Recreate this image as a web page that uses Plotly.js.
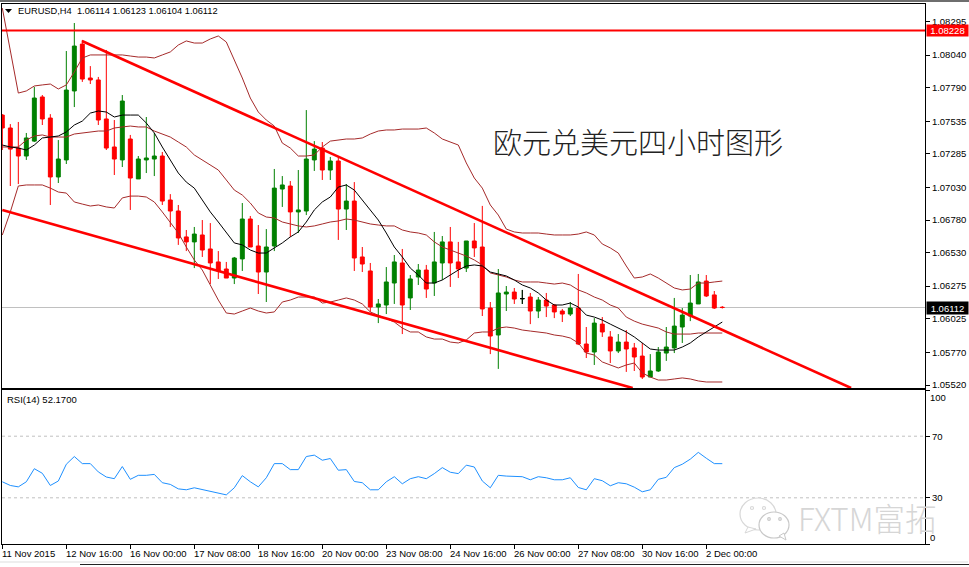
<!DOCTYPE html>
<html><head><meta charset="utf-8">
<script src="https://cdn.plot.ly/plotly-3.0.1.min.js"></script>
<style>html,body{margin:0;padding:0;background:#fff}</style>
</head><body><div id="chart" style="width:969px;height:567px"></div>
<script>
const opens=[1.07582,1.07483,1.07330,1.07269,1.07383,1.07720,1.07559,1.07109,1.07239,1.07766,
1.08124,1.07865,1.07850,1.07552,1.07338,1.07239,1.07399,1.07094,1.07239,1.07246,
1.07269,1.06933,1.06849,1.06651,1.06613,1.06666,1.06559,1.06460,1.06406,1.06337,
1.06483,1.06788,1.06582,1.06383,1.06582,1.07017,1.07040,1.06842,1.06849,1.07239,
1.07330,1.07162,1.07231,1.06864,1.06925,1.06498,1.06391,1.06116,1.06131,1.06299,
1.06452,1.06185,1.06345,1.06398,1.06299,1.06452,1.06613,1.06460,1.06413,1.06620,
1.06574,1.06108,1.05902,1.06215,1.06230,1.06180,1.06192,1.06085,1.06169,1.06131,
1.06085,1.06062,1.06108,1.05833,1.05772,1.05985,1.05887,1.05780,1.05848,1.05803,
1.05741,1.05581,1.05627,1.05764,1.05803,1.05963,1.06047,1.06139,1.06314,1.06208,1.06114];
const highs=[1.07589,1.07513,1.07529,1.07445,1.07797,1.07735,1.07589,1.07391,1.08071,1.08285,
1.08155,1.07956,1.07873,1.08079,1.07544,1.07735,1.07430,1.07269,1.07567,1.07445,
1.07300,1.06978,1.06895,1.06704,1.06727,1.06780,1.06757,1.06543,1.06460,1.06498,
1.06910,1.06811,1.06742,1.06711,1.07170,1.07116,1.07078,1.07162,1.07620,1.07383,
1.07376,1.07262,1.07262,1.07055,1.07070,1.06574,1.06452,1.06177,1.06421,1.06513,
1.06559,1.06360,1.06444,1.06437,1.06689,1.06658,1.06727,1.06613,1.06620,1.06757,
1.06888,1.06154,1.06406,1.06276,1.06261,1.06246,1.06223,1.06192,1.06223,1.06139,
1.06101,1.06154,1.06368,1.05963,1.06031,1.06039,1.05932,1.05909,1.05940,1.05841,
1.05841,1.05756,1.05810,1.05963,1.06185,1.06108,1.06360,1.06368,1.06360,1.06238,1.06123];
const lows=[1.07315,1.07040,1.07055,1.07239,1.07376,1.07506,1.06895,1.07063,1.07208,1.07643,
1.07835,1.07819,1.07506,1.07315,1.07124,1.07185,1.06857,1.07094,1.07139,1.07116,
1.06895,1.06727,1.06590,1.06543,1.06413,1.06498,1.06291,1.06330,1.06337,1.06291,
1.06391,1.06574,1.06215,1.06154,1.06543,1.06880,1.06651,1.06681,1.06818,1.07155,
1.07086,1.07086,1.06628,1.06704,1.06391,1.06383,1.06078,1.05993,1.06062,1.06139,
1.05909,1.06093,1.06284,1.06185,1.06200,1.06322,1.06269,1.06337,1.06383,1.06498,
1.06047,1.05756,1.05643,1.06085,1.06139,1.06139,1.05985,1.06031,1.06039,1.06031,
1.06001,1.06047,1.05825,1.05726,1.05673,1.05887,1.05688,1.05764,1.05620,1.05627,
1.05566,1.05581,1.05620,1.05704,1.05764,1.05841,1.06008,1.06139,1.06192,1.06101,1.06104];
const closes=[1.07483,1.07322,1.07269,1.07407,1.07712,1.07552,1.07109,1.07246,1.07773,1.08109,
1.07857,1.07850,1.07544,1.07330,1.07246,1.07689,1.07101,1.07246,1.07254,1.07269,
1.06925,1.06849,1.06643,1.06613,1.06673,1.06551,1.06452,1.06391,1.06337,1.06490,
1.06788,1.06574,1.06383,1.06574,1.07024,1.07048,1.06842,1.06857,1.07246,1.07322,
1.07162,1.07231,1.06864,1.06925,1.06490,1.06444,1.06116,1.06139,1.06307,1.06460,
1.06131,1.06330,1.06398,1.06253,1.06460,1.06613,1.06452,1.06406,1.06620,1.06567,
1.06101,1.05894,1.06223,1.06230,1.06177,1.06180,1.06085,1.06169,1.06123,1.06078,
1.06062,1.06108,1.05833,1.05772,1.05993,1.05925,1.05780,1.05848,1.05795,1.05734,
1.05581,1.05627,1.05772,1.05810,1.05970,1.06054,1.06146,1.06307,1.06200,1.06108,1.06112];
const upperBand=[1.08399,1.08079,1.07750,1.07766,1.07804,1.07812,1.07819,1.07781,1.07812,1.07911,
1.08018,1.08041,1.08041,1.08041,1.08041,1.08041,1.08033,1.08025,1.08025,1.08018,
1.08041,1.08064,1.08117,1.08148,1.08132,1.08132,1.08163,1.08186,1.08140,1.08002,
1.07865,1.07712,1.07605,1.07544,1.07498,1.07368,1.07330,1.07269,1.07269,1.07277,
1.07338,1.07383,1.07391,1.07399,1.07399,1.07407,1.07437,1.07460,1.07468,1.07468,
1.07475,1.07475,1.07475,1.07483,1.07445,1.07399,1.07376,1.07353,1.07216,1.07101,
1.07024,1.06895,1.06818,1.06711,1.06689,1.06681,1.06681,1.06681,1.06673,1.06666,
1.06666,1.06666,1.06673,1.06689,1.06666,1.06597,1.06567,1.06528,1.06429,1.06337,
1.06345,1.06368,1.06337,1.06299,1.06261,1.06246,1.06253,1.06299,1.06299,1.06307,1.06314];
const middleBand=[1.07338,1.07338,1.07338,1.07391,1.07422,1.07430,1.07414,1.07414,1.07414,1.07437,
1.07445,1.07453,1.07460,1.07460,1.07483,1.07491,1.07498,1.07491,1.07491,1.07460,
1.07437,1.07414,1.07376,1.07338,1.07277,1.07239,1.07200,1.07162,1.07086,1.07009,
1.06971,1.06910,1.06834,1.06803,1.06796,1.06765,1.06750,1.06735,1.06727,1.06735,
1.06750,1.06765,1.06773,1.06788,1.06780,1.06765,1.06750,1.06742,1.06735,1.06735,
1.06704,1.06689,1.06681,1.06666,1.06613,1.06574,1.06551,1.06528,1.06505,1.06475,
1.06437,1.06376,1.06360,1.06345,1.06322,1.06307,1.06307,1.06307,1.06299,1.06291,
1.06299,1.06284,1.06246,1.06223,1.06192,1.06169,1.06131,1.06108,1.06039,1.06008,
1.05985,1.05970,1.05955,1.05925,1.05909,1.05909,1.05909,1.05917,1.05917,1.05917,1.05917];
const lowerBand=[1.06666,1.06842,1.07040,1.07048,1.07048,1.07048,1.07024,1.06994,1.06986,1.06918,
1.06902,1.06887,1.06895,1.06880,1.06872,1.06949,1.06963,1.06963,1.06956,1.06918,
1.06842,1.06765,1.06681,1.06574,1.06475,1.06398,1.06284,1.06169,1.06070,1.06062,
1.06085,1.06108,1.06085,1.06070,1.06078,1.06154,1.06169,1.06192,1.06192,1.06192,
1.06146,1.06154,1.06169,1.06185,1.06169,1.06139,1.06078,1.06054,1.06031,1.06001,
1.05955,1.05925,1.05925,1.05887,1.05871,1.05871,1.05848,1.05841,1.05864,1.05917,
1.05925,1.05925,1.05955,1.05963,1.05955,1.05940,1.05932,1.05925,1.05917,1.05902,
1.05894,1.05879,1.05841,1.05764,1.05749,1.05696,1.05673,1.05650,1.05673,1.05688,
1.05612,1.05581,1.05558,1.05558,1.05566,1.05574,1.05566,1.05551,1.05543,1.05543,1.05543];
const movingAverage=[1.07353,1.07338,1.07330,1.07315,1.07353,1.07407,1.07414,1.07422,1.07453,1.07506,
1.07536,1.07597,1.07613,1.07605,1.07567,1.07582,1.07582,1.07582,1.07521,1.07445,
1.07338,1.07239,1.07139,1.07070,1.07024,1.06933,1.06842,1.06765,1.06681,1.06605,
1.06590,1.06551,1.06528,1.06528,1.06567,1.06605,1.06651,1.06689,1.06765,1.06857,
1.06918,1.06956,1.07032,1.07048,1.07009,1.06933,1.06857,1.06780,1.06681,1.06574,
1.06498,1.06413,1.06360,1.06299,1.06299,1.06322,1.06360,1.06398,1.06429,1.06437,
1.06429,1.06383,1.06368,1.06353,1.06322,1.06284,1.06261,1.06223,1.06169,1.06131,
1.06131,1.06146,1.06116,1.06054,1.06039,1.06016,1.05985,1.05955,1.05925,1.05887,
1.05841,1.05795,1.05787,1.05787,1.05787,1.05810,1.05841,1.05887,1.05925,1.05963,1.06001];
const rsiValues=[40.4,38.0,37.1,40.4,48.9,45.9,38.0,40.9,51.8,56.8,
52.2,52.2,46.8,43.5,42.4,50.3,42.0,44.6,44.6,45.2,
39.8,38.7,35.8,35.2,36.5,35.4,33.9,32.8,31.9,36.5,
44.4,40.4,37.1,43.0,52.2,52.2,48.3,48.3,56.8,57.7,
54.4,55.5,47.9,48.3,40.6,39.8,35.2,35.2,40.4,43.7,
39.1,42.4,43.7,42.4,45.7,49.6,46.6,45.7,51.2,50.0,
40.9,36.5,44.6,44.1,43.7,43.7,41.7,43.7,43.0,41.7,
41.7,43.0,36.7,35.2,42.4,41.1,37.8,39.8,39.1,36.9,
33.9,35.2,42.0,43.3,49.6,51.8,55.1,59.5,55.7,52.2,52.17];
const dateLabels=["11 Nov 2015","12 Nov 16:00","16 Nov 00:00","17 Nov 08:00","18 Nov 16:00","20 Nov 00:00","23 Nov 08:00","24 Nov 16:00","26 Nov 00:00","27 Nov 08:00","30 Nov 16:00","2 Dec 00:00"];
const priceTicks=[1.08295,1.08040,1.07790,1.07535,1.07285,1.07030,1.06780,1.06530,1.06275,1.06025,1.05770,1.05520];
const upperTrendX=[9.96,106.1], upperTrendY=[1.08148,1.05497];
const lowerTrendX=[0,78.8], lowerTrendY=[1.06857,1.05497];
const resistance=1.08228, lastPrice=1.06112, dojiBar=65;
const headerText="EURUSD,H4  1.06114 1.06123 1.06104 1.06112";
const rsiText="RSI(14) 52.1700";
const titleText="欧元兑美元四小时图形";
const markText="FXTM富拓";

const bars=opens.map((_,i)=>i);
const dateTicks=dateLabels.map((_,i)=>i*8);
const F="'Liberation Sans',Arial,sans-serif", FS=9.5, INK="#000";
const px=x=>(x-2)/923, py=y=>(544-y)/540;
const RED="#ff0000", GREEN="#008000", BROWN="#a52a2a";
const line=(x,y,color,width)=>({type:"scatter",mode:"lines",x,y,xaxis:"x",yaxis:"y",hoverinfo:"skip",showlegend:false,line:{color,width}});
const traces=[
 {type:"candlestick",x:bars,open:opens,high:highs,low:lows,close:closes,xaxis:"x",yaxis:"y",showlegend:false,whiskerwidth:0,
  increasing:{line:{color:GREEN,width:1},fillcolor:GREEN},decreasing:{line:{color:RED,width:1},fillcolor:RED}},
 {type:"candlestick",x:[bars[dojiBar]],open:[opens[dojiBar]],high:[highs[dojiBar]],low:[lows[dojiBar]],close:[closes[dojiBar]],xaxis:"x",yaxis:"y",showlegend:false,whiskerwidth:0,
  increasing:{line:{color:"#000",width:1},fillcolor:"#000"},decreasing:{line:{color:"#000",width:1},fillcolor:"#000"}},
 line(bars,upperBand,BROWN,1),line(bars,middleBand,BROWN,1),line(bars,lowerBand,BROWN,1),
 line(bars,movingAverage,"#000",1),
 line(upperTrendX,upperTrendY,RED,2.6),line(lowerTrendX,lowerTrendY,RED,2.6),
 {type:"scatter",mode:"lines",x:bars,y:rsiValues,xaxis:"x2",yaxis:"y2",hoverinfo:"skip",showlegend:false,line:{color:"#1e90ff",width:1}}
];
const pxShape=(o)=>Object.assign({xref:"paper",yref:"paper"},o);
const ell=(cx,cy,rx,ry,fill,lc)=>pxShape({type:"circle",x0:px(cx-rx),x1:px(cx+rx),y0:py(cy+ry),y1:py(cy-ry),fillcolor:fill,line:{color:lc,width:1.2}});
const markGray="#d8d8d8";
const shapes=[
 {type:"line",xref:"paper",yref:"y",x0:0,x1:1,y0:lastPrice,y1:lastPrice,layer:"below",line:{color:"#c0c0c0",width:1}},
 {type:"line",xref:"paper",yref:"y",x0:0,x1:1,y0:resistance,y1:resistance,line:{color:RED,width:2}},
 {type:"line",xref:"paper",yref:"y2",x0:0,x1:1,y0:70,y1:70,layer:"below",line:{color:"#c0c0c0",width:1,dash:"3px,3px"}},
 {type:"line",xref:"paper",yref:"y2",x0:0,x1:1,y0:30,y1:30,layer:"below",line:{color:"#c0c0c0",width:1,dash:"3px,3px"}},
 pxShape({type:"rect",x0:px(-2),x1:px(969),y0:py(2),y1:py(0),line:{width:0},fillcolor:"#6e6e6e"}),
 pxShape({type:"line",x0:px(0),x1:px(968),y0:py(562),y1:py(562),line:{color:"#dddddd",width:1}}),
 pxShape({type:"line",x0:px(80),x1:px(969),y0:py(564.5),y1:py(564.5),line:{color:"#222",width:1}}),
 pxShape({type:"path",path:`M ${px(5)} ${py(9)} L ${px(12)} ${py(9)} L ${px(8.5)} ${py(13)} Z`,fillcolor:"#000",line:{width:0}}),
 ell(758,514,18,16,"#ffffff",markGray),
 pxShape({type:"path",path:`M ${px(748)} ${py(527)} L ${px(745)} ${py(533)} L ${px(756)} ${py(529)} Z`,fillcolor:"#fff",line:{color:markGray,width:1}}),
 ell(774,525,15,13,"#ffffff","#c8c8c8"),
 pxShape({type:"path",path:`M ${px(779)} ${py(536)} L ${px(786)} ${py(540)} L ${px(784)} ${py(533)} Z`,fillcolor:"#fff",line:{color:"#c8c8c8",width:1}}),
 ell(752,508,1.5,1.5,"#fff",markGray),ell(764,508,1.5,1.5,"#fff",markGray),
 ell(769,519,1.3,1.3,"#fff","#c8c8c8"),ell(780,519,1.3,1.3,"#fff","#c8c8c8")
];
const note=(text,x,y,o)=>Object.assign({text,xref:"paper",yref:"paper",x:px(x),y:py(y),xanchor:"left",yanchor:"middle",showarrow:false,borderpad:0,font:{family:F,size:FS,color:INK}},o||{});
const annotations=[
 note(headerText,17,11.5,{font:{family:F,size:9.3,color:INK}}),
 note(rsiText,6,399.5),
 note(titleText,492,141,{font:{family:"'Noto Sans CJK SC'",size:29,color:"#222",weight:300}}),
 note("1.08228",926,30.7,{bgcolor:RED,width:41,height:11,align:"center",font:{family:F,size:FS,color:"#fff"}}),
 note("1.06112",926,308,{bgcolor:"#000",width:41,height:12,align:"center",font:{family:F,size:FS,color:"#fff"}}),
 note("100",929,397),
 note("0",929,537.5),
 note(markText,797,517,{font:{family:"'Noto Sans CJK SC'",size:31.5,color:"#d6d6d6",weight:300}})
].concat(dateLabels.map((t,i)=>note(t,1+i*64,553.5)));
Plotly.newPlot("chart",traces,{
 width:969,height:567,margin:{l:2,r:44,t:4,b:23,pad:0},autosize:false,
 paper_bgcolor:"#fff",plot_bgcolor:"#fff",showlegend:false,boxgap:0.3,hovermode:false,
 xaxis:{domain:[0,1],range:[-0.04,115.34],anchor:"y",showgrid:false,zeroline:false,showticklabels:false,ticks:"",showline:true,mirror:true,linecolor:"#000",linewidth:1,rangeslider:{visible:false}},
 yaxis:{domain:[156/540,1],range:[1.054971,1.084302],anchor:"x",side:"right",showgrid:false,zeroline:false,tickmode:"array",tickvals:priceTicks,ticktext:priceTicks.map(v=>v.toFixed(5)),ticks:"outside",ticklen:4,tickcolor:"#000",showline:true,mirror:true,linecolor:"#000",linewidth:1,tickfont:{family:F,size:FS,color:INK}},
 xaxis2:{domain:[0,1],range:[-0.04,115.34],anchor:"y2",showgrid:false,zeroline:false,tickmode:"array",tickvals:dateTicks,ticktext:dateLabels.map(()=>""),ticks:"outside",ticklen:4,tickcolor:"#000",showline:true,mirror:true,linecolor:"#000",linewidth:1},
 yaxis2:{domain:[0,154/540],range:[0,100],anchor:"x2",side:"right",showgrid:false,zeroline:false,tickmode:"array",tickvals:[100,70,30,0],ticktext:["","70","30",""],ticks:"outside",ticklen:4,tickcolor:"#000",showline:true,mirror:true,linecolor:"#000",linewidth:1,tickfont:{family:F,size:FS,color:INK}},
 shapes,annotations
},{displayModeBar:false,staticPlot:true});
</script></body></html>
